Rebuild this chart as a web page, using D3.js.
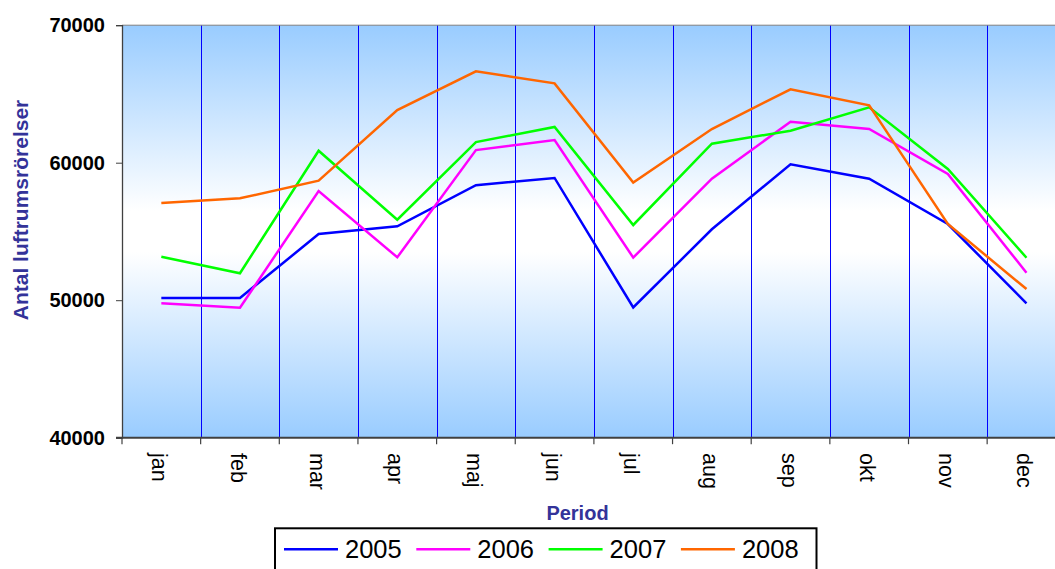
<!DOCTYPE html>
<html><head><meta charset="utf-8">
<script src="https://cdn.jsdelivr.net/npm/d3@7"></script>
<style>
html,body{margin:0;padding:0;background:#fff;overflow:hidden;}
svg{display:block;font-family:"Liberation Sans",Arial,sans-serif;}
</style></head>
<body>
<svg id="chart" width="1055" height="569"></svg>
<script>
const months = ["jan","feb","mar","apr","maj","jun","jul","aug","sep","okt","nov","dec"];
const years = ["2005","2006","2007","2008"];
const s2005 = [50160,50160,54810,55370,58360,58890,49470,55160,59880,58840,55540,49770];
const s2006 = [49770,49450,57940,53120,60920,61650,53100,58840,62980,62450,59180,52000];
const s2007 = [53160,51960,60870,55850,61500,62600,55470,61380,62330,64030,59540,53090];
const s2008 = [57070,57410,58690,63830,66650,65770,58550,62450,65340,64170,55540,50810];
const yTicks = [40000,50000,60000,70000];
const colors = ["#0000FF","#FF00FF","#00FF00","#FF6600"];
const series = [s2005,s2006,s2007,s2008];

(function(){
const svg = d3.select("#chart");
const pLeft = 122, pTop = 25.2, pBottom = 437.7, band = 78.65;
const pRight = pLeft + band*months.length;

const x = d3.scaleBand().domain(months).range([pLeft,pRight]).paddingInner(0).paddingOuter(0);
const y = d3.scaleLinear().domain([40000,70000]).range([pBottom,pTop]);

const defs = svg.append("defs");
const grad = defs.append("linearGradient").attr("id","bg").attr("x1",0).attr("y1",0).attr("x2",0).attr("y2",1);
grad.append("stop").attr("offset","0%").attr("stop-color","#99CCFF");
grad.append("stop").attr("offset","45%").attr("stop-color","#FFFFFF");
grad.append("stop").attr("offset","55%").attr("stop-color","#FFFFFF");
grad.append("stop").attr("offset","100%").attr("stop-color","#99CCFF");

svg.append("rect").attr("x",pLeft).attr("y",pTop).attr("width",pRight-pLeft).attr("height",pBottom-pTop).attr("fill","url(#bg)");

svg.append("g").selectAll("line").data(months.slice(1)).join("line")
  .attr("x1",d=>Math.round(x(d))+0.5).attr("x2",d=>Math.round(x(d))+0.5)
  .attr("y1",pTop).attr("y2",pBottom)
  .attr("stroke","#0000FF").attr("stroke-width",1);

svg.append("line").attr("x1",pLeft).attr("x2",pRight).attr("y1",pTop).attr("y2",pTop).attr("stroke","#808080").attr("stroke-width",1);

const yAxis = d3.axisLeft(y).tickValues(yTicks).tickSize(6).tickPadding(11).tickFormat(d3.format("d"));
const gy = svg.append("g").attr("transform",`translate(${pLeft},0)`).call(yAxis);
gy.select(".domain").attr("stroke","#404040").attr("stroke-width",1.3);
gy.selectAll(".tick line").attr("stroke","#404040");
gy.selectAll(".tick text").attr("font-size","20px").attr("font-weight","bold").attr("fill","#000")
  .attr("font-family","Liberation Sans, Arial, sans-serif");

const boundaries = months.map(m=>x(m));
svg.append("g").selectAll("line").data(boundaries).join("line")
  .attr("x1",d=>d).attr("x2",d=>d).attr("y1",pBottom).attr("y2",pBottom+6.5)
  .attr("stroke","#404040").attr("stroke-width",1.2);
svg.append("line").attr("x1",pLeft-6).attr("x2",pRight).attr("y1",pBottom).attr("y2",pBottom)
  .attr("stroke","#404040").attr("stroke-width",2);

svg.append("g").selectAll("text").data(months).join("text")
  .attr("transform",d=>`translate(${x(d)+x.bandwidth()/2-9},453) rotate(90)`)
  .attr("text-anchor","start")
  .attr("font-size","21.5px").attr("fill","#000").text(d=>d);

const line = d3.line().x((d,i)=>x(months[i])+x.bandwidth()/2).y(d=>y(d));
svg.append("g").selectAll("path").data(series).join("path")
  .attr("d",d=>line(d)).attr("fill","none")
  .attr("stroke",(d,i)=>colors[i]).attr("stroke-width",2.5).attr("stroke-linejoin","miter");

svg.append("text").attr("transform","translate(28,210) rotate(-90)")
  .attr("text-anchor","middle").attr("font-size","21px").attr("font-weight","bold")
  .attr("fill","#333399").text("Antal luftrumsrörelser");
svg.append("text").attr("x",577.5).attr("y",520)
  .attr("text-anchor","middle").attr("font-size","20px").attr("font-weight","bold")
  .attr("fill","#333399").text("Period");

const lg = svg.append("g");
lg.append("rect").attr("x",275).attr("y",528.3).attr("width",541.5).attr("height",80)
  .attr("fill","#fff").attr("stroke","#000").attr("stroke-width",2);
const item = lg.selectAll("g.item").data(years).join("g").attr("class","item")
  .attr("transform",(d,i)=>`translate(${284+i*132.3},0)`);
item.append("line").attr("x1",0).attr("x2",54).attr("y1",549.3).attr("y2",549.3)
  .attr("stroke",(d,i)=>colors[i]).attr("stroke-width",2.5);
item.append("text").attr("x",61).attr("y",558.3).attr("font-size","25.5px").attr("fill","#000").text(d=>d);
})();
</script>
</body></html>
